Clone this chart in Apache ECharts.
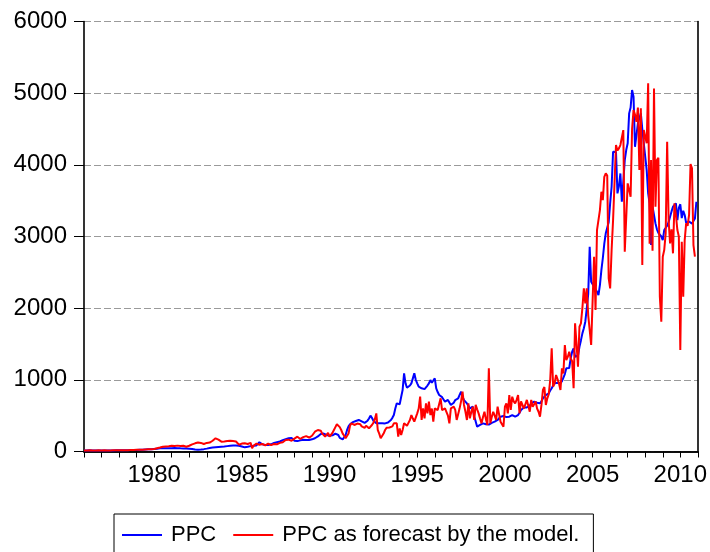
<!DOCTYPE html>
<html>
<head>
<meta charset="utf-8">
<title>PPC and model forecast</title>
<script src="https://cdn.jsdelivr.net/npm/echarts@6/dist/echarts.min.js"></script>
<style>
  html, body { margin: 0; padding: 0; background: #ffffff; }
  #chart { width: 710px; height: 552px; }
</style>
</head>
<body>
<div id="chart"></div>
<script>
// Monthly sample: 1976M01 .. 2011M01
const startYear = 1976;
const endYear = 2011;
const labelYears = [1980, 1985, 1990, 1995, 2000, 2005, 2010];
const yTicks = [0, 1000, 2000, 3000, 4000, 5000, 6000];

// Actual PPC, one row per year (Jan..Dec)
const ppc = [
  14,14,15,15,16,16,15,15,14,14,15,15,              // 1976
  15,15,14,14,13,13,14,14,15,15,16,16,              // 1977
  16,17,17,18,18,19,19,20,20,21,21,22,              // 1978
  22,23,24,25,26,27,28,29,30,31,32,34,              // 1979
  36,38,40,42,44,45,46,47,46,45,44,45,              // 1980
  46,47,48,47,46,45,44,44,43,42,42,41,              // 1981
  40,38,35,32,28,26,25,26,28,30,33,36,              // 1982
  40,44,48,52,55,58,60,62,64,66,67,68,              // 1983
  70,72,75,78,80,82,84,85,84,82,80,78,              // 1984
  70,62,58,60,65,70,75,78,80,82,85,88,              // 1985
  130,120,100,95,92,90,92,95,100,110,120,130,       // 1986
  130,135,140,150,158,165,172,178,184,188,190,192,  // 1987
  150,140,145,150,155,160,165,165,160,158,160,165,  // 1988
  170,175,185,195,210,225,245,255,250,240,230,225,  // 1989
  220,215,225,240,250,245,230,190,165,170,190,230,  // 1990
  300,350,380,395,410,420,425,430,440,435,420,410,  // 1991
  400,410,430,460,500,470,430,410,395,390,395,400,  // 1992
  395,390,392,398,405,420,440,470,510,600,672,665,  // 1993
  660,760,858,1090,951,890,882,920,951,1020,1091,1000,   // 1994
  951,904,890,882,880,870,880,920,951,997,960,990,       // 1995
  1021,882,830,788,770,758,740,695,700,720,700,650,      // 1996
  625,680,718,730,740,790,834,760,718,700,672,640,       // 1997
  602,620,625,485,420,346,360,370,380,393,390,380,       // 1998
  370,375,393,400,410,416,425,440,460,486,490,495,       // 1999
  490,480,463,486,500,509,500,486,495,509,540,580,       // 2000
  602,615,625,615,602,640,672,690,695,690,680,672,       // 2001
  672,700,742,765,788,800,811,850,882,920,951,960,       // 2002
  960,951,951,980,997,1080,1160,1160,1165,1300,1392,1439,        // 2003
  1322,1330,1340,1462,1550,1648,1720,1811,1997,2200,2857,2369,   // 2004
  2350,2300,2276,2230,2183,2322,2532,2700,2900,3044,3066,3200,   // 2005
  3462,3694,4182,4182,4180,3602,3700,3880,3485,3764,4066,4206,   // 2006
  4300,4718,4800,5043,4950,4252,4252,4578,4650,4718,4500,4299,   // 2007
  4299,3927,3602,3462,2881,3415,3300,3183,3100,3050,3044,3000,   // 2008
  2950,3090,3100,3150,3200,3276,3350,3415,3440,3462,3229,3400,   // 2009
  3450,3257,3360,3300,3190,3200,3210,3200,3180,3171,3250,3485,   // 2010
  null                                                           // 2011M01
];

// PPC as forecast by the model
const forecast = [
  15,16,14,15,17,15,14,16,15,14,16,15,              // 1976
  15,14,16,13,14,15,13,14,16,15,17,16,              // 1977
  17,16,18,19,17,20,19,21,20,22,21,23,              // 1978
  23,25,24,27,26,29,28,31,30,33,32,35,              // 1979
  35,40,45,50,55,60,67,62,70,75,72,80,              // 1980
  80,85,78,90,82,88,76,85,80,72,67,75,              // 1981
  80,90,100,95,114,108,126,115,120,110,105,115,     // 1982
  120,130,125,140,150,160,184,175,165,150,137,145,  // 1983
  140,150,145,130,150,160,145,137,140,120,95,105,   // 1984
  110,100,115,121,105,120,121,44,80,100,110,95,     // 1985
  95,90,105,95,85,100,110,95,88,100,105,100,        // 1986
  100,110,120,137,130,145,160,155,165,160,150,175,  // 1987
  180,190,207,195,175,185,200,210,214,205,195,210,  // 1988
  220,240,276,260,300,323,290,250,230,207,220,260,  // 1989
  207,230,260,300,340,380,393,340,300,250,220,184,  // 1990
  184,250,360,393,380,370,360,390,400,380,350,340,  // 1991
  330,360,350,323,340,370,400,450,532,300,250,184,  // 1992
  184,250,300,330,346,335,323,350,393,380,393,207,  // 1993
  323,230,300,393,380,360,400,440,509,460,416,440,  // 1994
  532,600,765,440,602,463,672,532,695,509,600,416,  // 1995
  602,625,579,602,742,579,600,602,580,500,393,602,  // 1996
  602,625,580,440,520,602,700,834,650,555,440,672,  // 1997
  463,550,625,440,650,590,532,460,393,480,555,450,  // 1998
  370,1160,393,480,555,500,440,625,520,416,380,346, // 1999
  625,672,532,788,579,765,700,672,720,788,532,700,  // 2000
  700,600,579,720,640,555,720,625,660,700,600,555,  // 2001
  486,650,858,900,650,742,800,1000,1439,904,951,1067,        // 2002
  1067,950,858,1160,1090,1486,1276,1320,1392,1300,1260,882,  // 2003
  1788,1500,1183,1741,1788,2000,2276,2067,2276,1900,1695,1486,   // 2004
  1486,2718,1974,3090,3100,3369,3624,3508,3833,3880,3850,2416,   // 2005
  2276,2811,3229,3229,4276,4200,4230,4276,4252,4485,2787,2760,   // 2006
  3741,3741,3555,4500,4764,4700,4600,4800,3927,4788,2602,4485,   // 2007
  4485,4300,5137,2900,4066,2800,5066,3415,4066,4100,2160,1811,   // 2008
  2718,2811,3044,4322,3229,2904,3100,2765,3462,3300,3090,3000,   // 2009
  1416,2927,2160,2950,3183,3150,3300,4011,3950,2881,2718,null,   // 2010
  null                                                           // 2011M01
];

// Category labels such as "1976M01"
const months = [];
for (let y = startYear; y <= endYear; y++) {
  for (let m = 1; m <= 12; m++) {
    if (y === endYear && m > 1) break;
    months.push(y + 'M' + (m < 10 ? '0' + m : m));
  }
}

const isJanuary = (idx, val) => val.slice(5) === '01';
const isLabelYear = (idx, val) => isJanuary(idx, val) && labelYears.indexOf(+val.slice(0, 4)) >= 0;

const font = 'Liberation Sans, Arial, sans-serif';
const frame = { show: true, lineStyle: { color: '#000', width: 1.6 } };

const chart = echarts.init(document.getElementById('chart'), null, { renderer: 'canvas' });
chart.setOption({
  backgroundColor: '#ffffff',
  animation: false,
  color: ['#0000ff', '#ff0000'],
  grid: { left: 84, right: 11.5, top: 21.5, bottom: 100.5, containLabel: false },
  legend: {
    left: 114, top: 514,
    orient: 'horizontal',
    padding: [10, 14, 10, 8],
    borderColor: '#000', borderWidth: 1,
    itemWidth: 40, itemHeight: 2, itemGap: 17,
    icon: 'rect',
    formatter: name => '{t|' + name + '}',
    textStyle: {
      fontFamily: font, fontSize: 22, color: '#000',
      rich: { t: { fontFamily: font, fontSize: 22, color: '#000', padding: [0, 0, 0, 4] } }
    },
    data: ['PPC', 'PPC as forecast by the model.']
  },
  xAxis: [{
    type: 'category',
    data: months,
    boundaryGap: false,
    axisLine: frame,
    axisTick: { show: true, interval: isJanuary, length: 6, lineStyle: { color: '#000', width: 1 } },
    axisLabel: {
      interval: isLabelYear, formatter: v => v.slice(0, 4),
      fontFamily: font, fontSize: 24, color: '#000', margin: 12
    },
    splitLine: { show: false }
  }, {
    type: 'category', data: months, boundaryGap: false, position: 'top',
    axisLine: frame, axisTick: { show: false }, axisLabel: { show: false }, splitLine: { show: false }
  }],
  yAxis: [{
    type: 'value', min: yTicks[0], max: yTicks[yTicks.length - 1], interval: 1000,
    axisLine: frame,
    axisTick: { show: true, length: 10, lineStyle: { color: '#000', width: 1 } },
    axisLabel: { fontFamily: font, fontSize: 24, color: '#000', margin: 17, formatter: v => String(v) },
    splitLine: { show: true, lineStyle: { color: '#9a9a9a', width: 1, type: [7, 3] } }
  }, {
    type: 'value', min: yTicks[0], max: yTicks[yTicks.length - 1], interval: 1000, position: 'right',
    axisLine: frame, axisTick: { show: false }, axisLabel: { show: false }, splitLine: { show: false }
  }],
  series: [{
    name: 'PPC', type: 'line', data: ppc,
    showSymbol: false, symbol: 'none', connectNulls: false,
    lineStyle: { color: '#0000ff', width: 2 }, itemStyle: { color: '#0000ff' }, z: 3
  }, {
    name: 'PPC as forecast by the model.', type: 'line', data: forecast,
    showSymbol: false, symbol: 'none', connectNulls: false,
    lineStyle: { color: '#ff0000', width: 2 }, itemStyle: { color: '#ff0000' }, z: 4
  }]
});
</script>
</body>
</html>
